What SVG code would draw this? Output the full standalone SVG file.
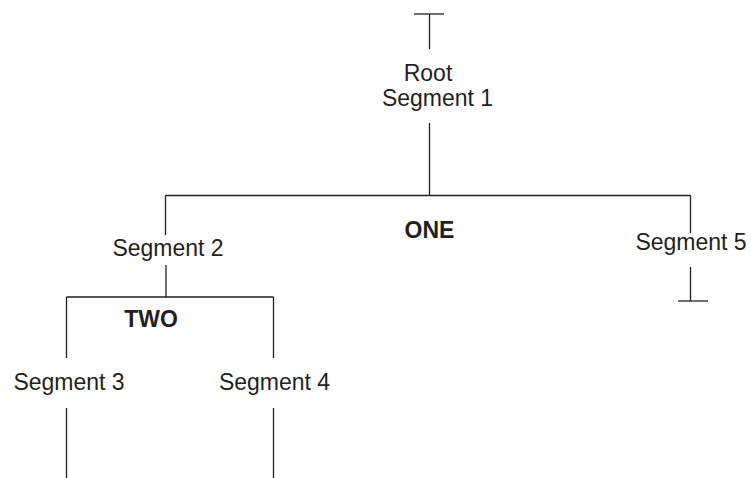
<svg xmlns="http://www.w3.org/2000/svg" width="751" height="478" viewBox="0 0 751 478">
<style>
text{font-family:"Liberation Sans",Arial,sans-serif;font-size:23px;fill:#231f20;text-anchor:middle}
.b{font-weight:bold}
.c line{stroke:#231f20;stroke-width:1.3;fill:none}
</style>
<rect width="751" height="478" fill="#fff"/>
<g class="c" id="connectors">
<line x1="414" y1="14" x2="444" y2="14"/>
<line x1="429.5" y1="14" x2="429.5" y2="49"/>
<line x1="429.5" y1="123" x2="429.5" y2="195.5"/>
<line x1="165.5" y1="195.5" x2="690.5" y2="195.5"/>
<line x1="165.5" y1="195.5" x2="165.5" y2="235"/>
<line x1="690.5" y1="195.5" x2="690.5" y2="233"/>
<line x1="166" y1="265" x2="166" y2="297"/>
<line x1="66.5" y1="297" x2="273.5" y2="297"/>
<line x1="66.5" y1="297" x2="66.5" y2="358"/>
<line x1="273.5" y1="297" x2="273.5" y2="358"/>
<line x1="66.5" y1="408" x2="66.5" y2="478"/>
<line x1="273.5" y1="408" x2="273.5" y2="478"/>
<line x1="690.5" y1="267" x2="690.5" y2="301"/>
<line x1="678" y1="301" x2="708" y2="301"/>
</g>
<g id="root"><text x="428" y="81">Root</text><text x="437.5" y="106">Segment 1</text></g>
<g id="one"><text class="b" x="429.5" y="238">ONE</text></g>
<g id="seg2"><text x="168" y="256">Segment 2</text></g>
<g id="two"><text class="b" x="151" y="327">TWO</text></g>
<g id="seg3"><text x="69" y="390">Segment 3</text></g>
<g id="seg4"><text x="274.5" y="390">Segment 4</text></g>
<g id="seg5"><text x="691" y="250">Segment 5</text></g>
</svg>
